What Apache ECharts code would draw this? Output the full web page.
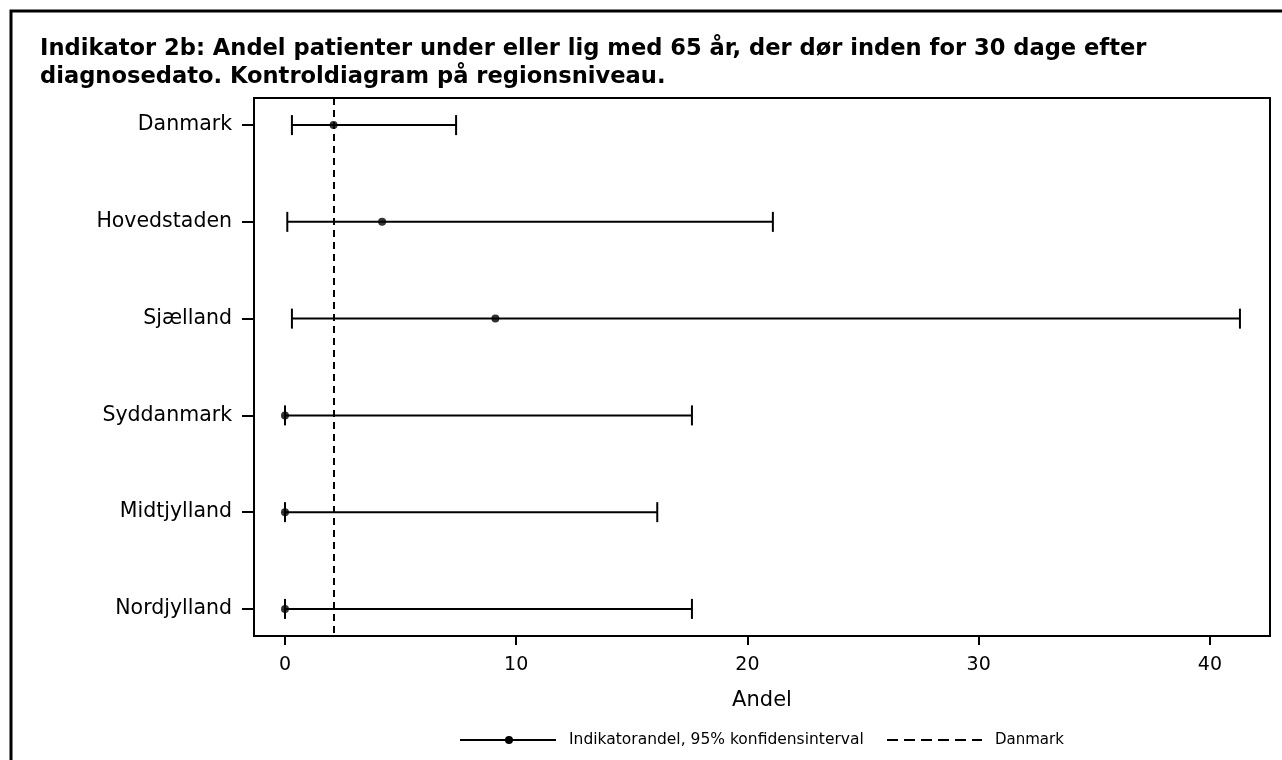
<!DOCTYPE html>
<html>
<head>
<meta charset="utf-8">
<script src="https://cdn.jsdelivr.net/npm/echarts@6/dist/echarts.min.js"></script>
<style>
html,body{margin:0;padding:0;background:#fff;}
#chart{width:1282px;height:760px;}
</style>
</head>
<body>
<div id="chart"></div>
<script>
// ---- data ----
const categories = ['Danmark', 'Hovedstaden', 'Sjælland', 'Syddanmark', 'Midtjylland', 'Nordjylland'];
const pointValues = [2.1, 4.2, 9.1, 0.0, 0.0, 0.0];
const lowerValues = [0.3, 0.1, 0.3, 0.0, 0.0, 0.0];
const upperValues = [7.4, 21.1, 41.3, 17.6, 16.1, 17.6];
const referenceValue = 2.1;
const xTicks = [0, 10, 20, 30, 40];
const legendLabels = ['Indikatorandel, 95% konfidensinterval', 'Danmark'];
const titleText = 'Indikator 2b: Andel patienter under eller lig med 65 år, der dør inden for 30 dage efter\ndiagnosedato. Kontroldiagram på regionsniveau.';
const xAxisName = 'Andel';

const FONT = '"DejaVu Sans", sans-serif';
const chart = echarts.init(document.getElementById('chart'), null, {renderer: 'canvas'});

const intervalData = categories.map((c, i) => [lowerValues[i], upperValues[i], i]);
const pointData = categories.map((c, i) => [pointValues[i], i]);
const yIdx = categories.map((c, i) => i);

chart.setOption({
  animation: false,
  backgroundColor: '#fff',
  title: {
    text: titleText,
    left: 35, top: 30,
    textStyle: {fontFamily: FONT, fontWeight: 'bold', fontSize: 22.6, lineHeight: 28, color: '#000'}
  },
  grid: {left: 254, right: 12, top: 98, bottom: 124, show: true, borderColor: '#000', borderWidth: 2, backgroundColor: 'transparent'},
  xAxis: {
    type: 'value', min: -1.34, max: 42.6,
    name: xAxisName, nameLocation: 'middle', nameGap: 54,
    nameTextStyle: {fontFamily: FONT, fontSize: 21, color: '#000'},
    splitLine: {show: false},
    axisLine: {show: true, onZero: false, lineStyle: {color: '#000', width: 2}},
    axisTick: {show: true, length: 9, lineStyle: {color: '#000', width: 2}, customValues: xTicks},
    axisLabel: {fontFamily: FONT, fontSize: 19, color: '#000', margin: 20, customValues: xTicks}
  },
  yAxis: {
    type: 'value', inverse: true, min: -0.28, max: 5.28,
    splitLine: {show: false},
    axisLine: {show: true, onZero: false, lineStyle: {color: '#000', width: 2}},
    axisTick: {show: true, length: 12, lineStyle: {color: '#000', width: 2}, customValues: yIdx},
    axisLabel: {fontFamily: FONT, fontSize: 20.5, color: '#000', margin: 22, customValues: yIdx,
      formatter: v => categories[Math.round(v)] || ''}
  },
  graphic: [
    {type: 'rect', shape: {x: 11, y: 11, width: 1300, height: 800}, style: {fill: 'none', stroke: '#000', lineWidth: 3}, silent: true},
    {type: 'line', shape: {x1: 460, y1: 740, x2: 556, y2: 740}, style: {stroke: '#000', lineWidth: 2}},
    {type: 'circle', shape: {cx: 509, cy: 740, r: 4}, style: {fill: '#000'}},
    {type: 'text', x: 569, y: 740, style: {text: legendLabels[0], font: '15.5px ' + FONT, fill: '#000', textVerticalAlign: 'middle'}},
    {type: 'line', shape: {x1: 887, y1: 740, x2: 982, y2: 740}, style: {stroke: '#000', lineWidth: 2, lineDash: [11, 6]}},
    {type: 'text', x: 995, y: 740, style: {text: legendLabels[1], font: '15px ' + FONT, fill: '#000', textVerticalAlign: 'middle'}}
  ],
  series: [
    {
      type: 'custom',
      name: legendLabels[0],
      data: intervalData,
      encode: {x: [0, 1], y: 2},
      renderItem: function (params, api) {
        const lo = api.coord([api.value(0), api.value(2)]);
        const hi = api.coord([api.value(1), api.value(2)]);
        const h = 10;
        const st = {stroke: '#000', lineWidth: 2};
        return {type: 'group', children: [
          {type: 'line', shape: {x1: lo[0], y1: lo[1], x2: hi[0], y2: hi[1]}, style: st},
          {type: 'line', shape: {x1: lo[0], y1: lo[1] - h, x2: lo[0], y2: lo[1] + h}, style: st},
          {type: 'line', shape: {x1: hi[0], y1: hi[1] - h, x2: hi[0], y2: hi[1] + h}, style: st}
        ]};
      },
      markLine: {
        silent: true, symbol: 'none',
        label: {show: false},
        lineStyle: {color: '#000', width: 2, type: [7, 5]},
        data: [{xAxis: referenceValue}]
      },
      z: 2
    },
    {
      type: 'scatter',
      name: 'points',
      data: pointData,
      symbol: 'circle', symbolSize: 8,
      itemStyle: {color: '#000'},
      z: 3
    }
  ]
});
</script>
</body>
</html>
